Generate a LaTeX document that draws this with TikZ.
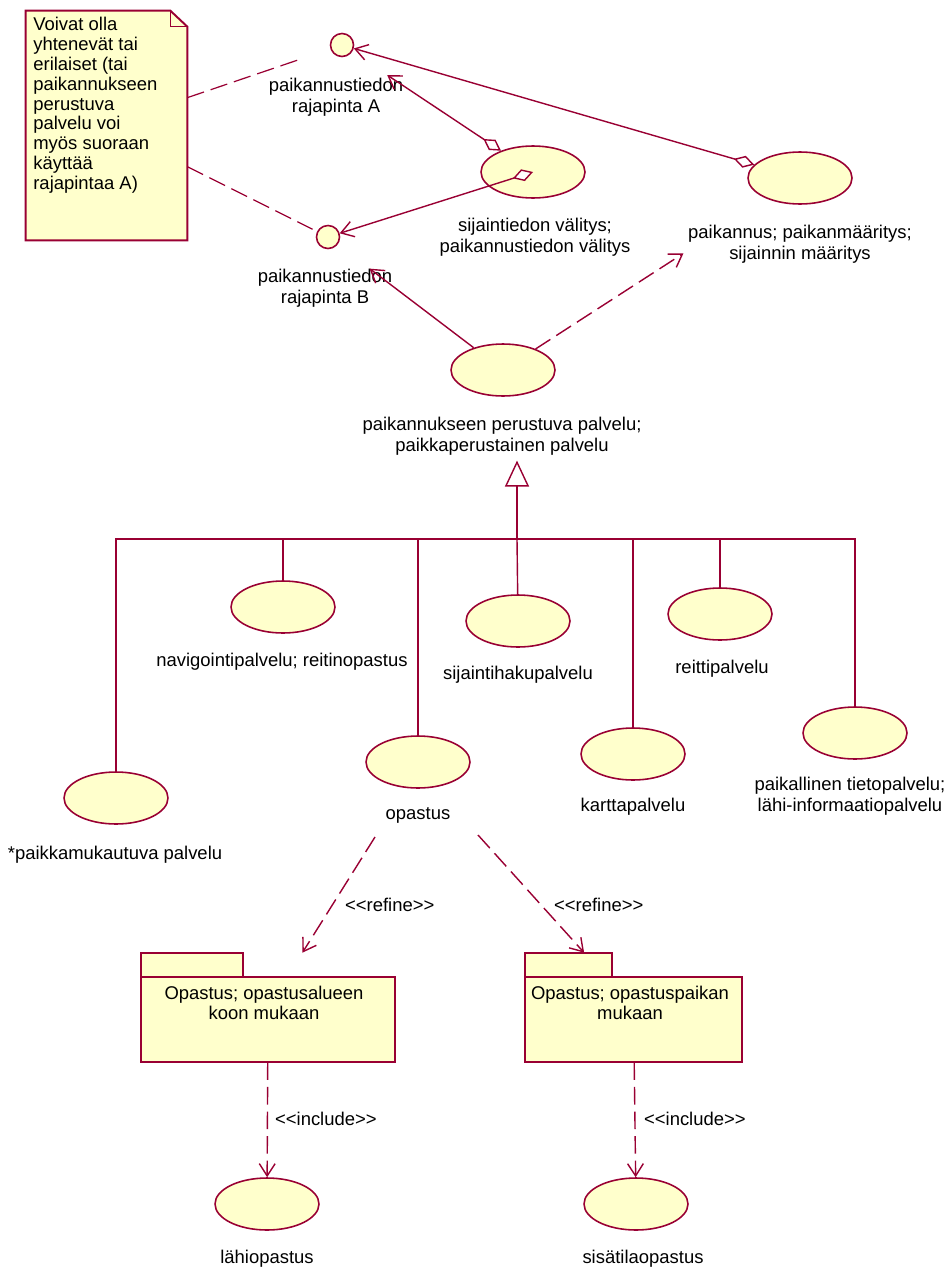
\documentclass[tikz,border=0pt]{standalone}
\usepackage{fontspec}
\setmainfont{Liberation Sans}
\usetikzlibrary{shapes.geometric,arrows.meta}
\definecolor{umlred}{RGB}{153,0,51}
\definecolor{ucyellow}{RGB}{255,255,204}
\newcommand{\umlst}[1]{<\kern0pt<#1>\kern0pt>}

\begin{document}
\begin{tikzpicture}[x=0.02cm,y=-0.02cm,
    font=\fontsize{10.5pt}{11.8pt}\selectfont,
    usecase/.style={ellipse,draw=umlred,fill=ucyellow,line width=0.9pt,minimum width=2.08cm,minimum height=1.04cm,inner sep=0pt},
    iface/.style={circle,draw=umlred,fill=ucyellow,line width=0.9pt,minimum size=0.46cm,inner sep=0pt},
    caption/.style={align=center,inner sep=1pt},
    uses/.style={draw=umlred,line width=0.8pt,-{Straight Barb[length=7pt,width=9pt]}},
    aggr/.style={draw=umlred,line width=0.8pt,{Diamond[open,fill=white,length=12pt,width=7pt]}-{Straight Barb[length=7pt,width=9pt]}},
    depend/.style={uses,dash pattern=on 10pt off 4pt},
    noteline/.style={draw=umlred,line width=0.7pt,dash pattern=on 10pt off 4pt},
    tree/.style={draw=umlred,line width=0.8pt},
    gen/.style={tree,-{Triangle[open,fill=white,length=0.52cm,width=0.48cm]}},
    frame/.style={draw=umlred,fill=ucyellow,line width=1.1pt},
    box/.style={inner sep=0pt}]
    \useasboundingbox (0,0) rectangle (950,1268);

    % note
    \node[box,minimum width=3.22cm,minimum height=4.58cm] (note) at (106.5,125.5) {};
    \draw[frame] (note.north west) -- ([xshift=-0.34cm]note.north east) -- ([yshift=-0.32cm]note.north east) -- (note.south east) -- (note.south west) -- cycle;
    \draw[draw=umlred,line width=0.8pt] ([xshift=-0.34cm]note.north east) |- ([yshift=-0.32cm]note.north east);
    \node[box,anchor=north west,align=left,font=\fontsize{10.5pt}{11.3pt}\selectfont] (notetext) at (33,17)
        {Voivat olla\\yhtenevät tai\\erilaiset (tai\\paikannukseen\\perustuva\\palvelu voi\\myös suoraan\\käyttää\\rajapintaa A)};

    % interfaces and upper use cases
    \node[iface] (ifA) at (342,45) {};
    \node[iface] (ifB) at (328,237) {};
    \node[caption] (labA) at (336,97) {paikannustiedon\\rajapinta A};
    \node[caption] (labB) at (325,288) {paikannustiedon\\rajapinta B};
    \node[usecase] (sij) at (533,172) {};
    \node[caption] (labSij) at (535,237) {sijaintiedon välitys;\\paikannustiedon välitys};
    \node[usecase] (pkm) at (800,178) {};
    \node[caption] (labPkm) at (800,244) {paikannus; paikanmääritys;\\sijainnin määritys};
    \node[usecase] (lbs) at (503,370) {};
    \node[caption] (labMain) at (502,436) {paikannukseen perustuva palvelu;\\paikkaperustainen palvelu};

    \draw[noteline,shorten >=0.6cm] (note.19) -- (ifA);
    \draw[noteline,shorten >=0.1cm] (note.-27) -- (ifB);
    \draw[aggr] (pkm) -- (ifA);
    \draw[aggr,shorten >=0.84cm] (sij) -- (ifA);
    \draw[aggr] (sij.center) -- (ifB);
    \draw[uses,shorten >=0.8cm] (lbs) -- (ifB);
    \draw[depend,shorten >=2cm] (lbs) -- (pkm);

    % specialisations
    \node[usecase] (navi) at (283,607) {};
    \node[caption] (labNavi) at (282,662) {navigointipalvelu; reitinopastus};
    \node[usecase] (haku) at (518,621) {};
    \node[caption] (labHaku) at (518,675) {sijaintihakupalvelu};
    \node[usecase] (reitti) at (720,614) {};
    \node[caption] (labReitti) at (722,669) {reittipalvelu};
    \node[usecase] (mukaut) at (116,798) {};
    \node[caption] (labMukaut) at (115,855) {*paikkamukautuva palvelu};
    \node[usecase] (opastus) at (418,762) {};
    \node[caption] (labOpastus) at (418,815) {opastus};
    \node[usecase] (kartta) at (633,754) {};
    \node[caption] (labKartta) at (633,807) {karttapalvelu};
    \node[usecase] (lokal) at (855,733) {};
    \node[caption] (labLokal) at (850,796) {paikallinen tietopalvelu;\\lähi-informaatiopalvelu};

    \coordinate (busT) at (517,539);
    \draw[gen,shorten >=2pt] (busT) -- (busT |- labMain.south);
    \draw[tree] (mukaut) |- (busT);
    \draw[tree] (lokal) |- (busT);
    \draw[tree] (navi) -- (navi |- busT);
    \draw[tree] (opastus) -- (opastus |- busT);
    \draw[tree] (haku) -- (busT);
    \draw[tree,line width=1.2pt] (kartta) -- (kartta |- busT);
    \draw[tree,line width=1.2pt] (reitti) -- (reitti |- busT);

    % packages
    \node[box,minimum width=5.08cm,minimum height=2.18cm] (pkA) at (268,1007.5) {};
    \draw[frame] ([yshift=-0.48cm]pkA.north west) rectangle (pkA.south east);
    \draw[frame] (pkA.north west) rectangle ([xshift=2.04cm,yshift=-0.48cm]pkA.north west);
    \node[caption] (pkAtext) at (264,1003) {Opastus; opastusalueen\\koon mukaan};
    \node[box,minimum width=4.34cm,minimum height=2.18cm] (pkB) at (633.5,1007.5) {};
    \draw[frame] ([yshift=-0.48cm]pkB.north west) rectangle (pkB.south east);
    \draw[frame] (pkB.north west) rectangle ([xshift=1.74cm,yshift=-0.48cm]pkB.north west);
    \node[caption] (pkBtext) at (630,1003) {Opastus; opastuspaikan\\mukaan};

    \coordinate (opL) at (375,837);
    \coordinate (opR) at (478,835);
    \draw[depend] (opL) -- (pkA);
    \draw[depend] (opR) -- (pkB);
    \node[caption,anchor=west] (refA) at (343,905) {\umlst{refine}};
    \node[caption,anchor=west] (refB) at (552,905) {\umlst{refine}};

    \node[usecase] (lahi) at (267,1204) {};
    \node[caption] (labLahi) at (267,1259) {lähiopastus};
    \node[usecase] (sisa) at (636,1204) {};
    \node[caption] (labSisa) at (643,1259) {sisätilaopastus};
    \draw[depend] (pkA) -- (lahi);
    \draw[depend] (pkB) -- (sisa);
    \node[caption,anchor=west] (incA) at (273,1119) {\umlst{include}};
    \node[caption,anchor=west] (incB) at (642,1119) {\umlst{include}};
\end{tikzpicture}
\end{document}
